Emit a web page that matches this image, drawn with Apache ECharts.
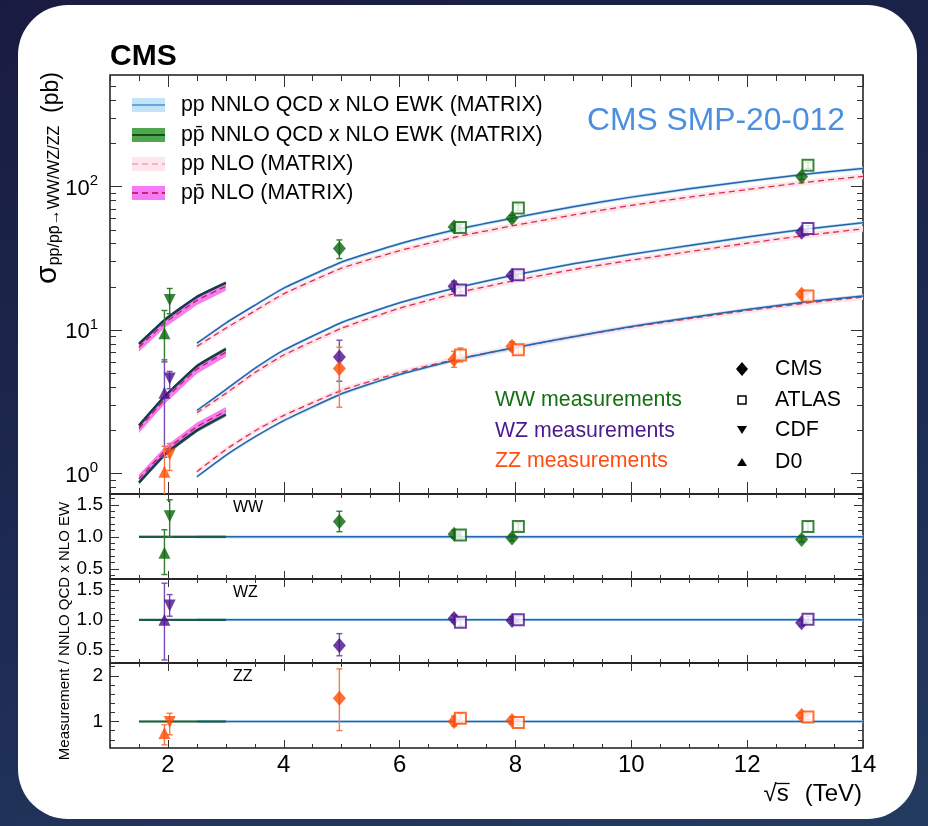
<!DOCTYPE html>
<html><head><meta charset="utf-8">
<script src="https://cdn.jsdelivr.net/npm/echarts@6/dist/echarts.min.js"></script>
<style>
html,body{margin:0;padding:0;width:928px;height:826px;overflow:hidden;
 background:linear-gradient(165deg,#191c40 0%,#1d2a52 55%,#243b60 100%);}
#card{position:absolute;left:18px;top:5px;width:899px;height:814px;background:#fff;border-radius:50px;}
#chart{position:absolute;left:0;top:0;width:928px;height:826px;}
</style></head>
<body><div id="card"></div><div id="chart"></div>
<script>
// ---------------- data ----------------
const ppSqrtS    = [2.5, 3, 3.5, 4, 5, 6, 7, 8, 9, 10, 11, 12, 13, 14];
const ppbarSqrtS = [1.5, 1.96, 2.5, 3];

const wwPP_NNLO = [8.1, 11.2, 14.9, 19.6, 29.8, 40.0, 50.4, 61.0, 72.5, 84.5, 96.5, 109.0, 122.0, 134.0];
const wwPP_NLO  = [7.7, 10.3, 13.6, 17.9, 27.0, 35.8, 44.8, 53.8, 63.5, 74.0, 84.5, 95.5, 107.0, 118.0];
const wzPP_NNLO = [2.75, 3.85, 5.4, 7.24, 11.3, 15.5, 19.8, 24.3, 29.0, 33.8, 38.8, 44.5, 50.5, 56.0];
const wzPP_NLO  = [2.65, 3.62, 5.05, 6.7, 10.3, 14.2, 18.2, 22.2, 26.4, 30.7, 35.2, 40.3, 45.6, 50.8];
const zzPP_NNLO = [0.95, 1.34, 1.8, 2.34, 3.6, 4.9, 6.24, 7.55, 9.0, 10.6, 12.2, 13.9, 15.7, 17.3];
const zzPP_NLO  = [1.03, 1.47, 1.98, 2.54, 3.8, 5.05, 6.3, 7.55, 9.0, 10.5, 12.0, 13.7, 15.4, 17.0];

const wwPPbar_NNLO = [8.0, 11.9, 17.0, 21.3];
const wwPPbar_NLO  = [7.6, 11.3, 16.1, 20.2];
const wzPPbar_NNLO = [2.16, 3.5, 5.6, 7.36];
const wzPPbar_NLO  = [2.06, 3.33, 5.33, 7.0];
const zzPPbar_NNLO = [0.865, 1.37, 2.0, 2.58];
const zzPPbar_NLO  = [0.92, 1.45, 2.12, 2.72];

// relative theory uncertainties (band half widths)
const uncPP_NNLO = 0.025, uncPP_NLO = 0.045, uncPPbar_NNLO = 0.03, uncPPbar_NLO = 0.07;

// [experiment, sqrt(s) TeV, sigma pb, sigma low, sigma high, ratio, ratio low, ratio high]
const wwMeasurements = [
  ['D0',    1.96,   9.5,   6.0,  13.7, 0.75, 0.41, 1.11],
  ['CDF',   1.96,  16.2,  13.0,  19.5, 1.32, 1.00, 1.58],
  ['CMS',   5.02,  37.0,  31.5,  42.5, 1.24, 1.08, 1.40],
  ['CMS',   7,     52.4,  50.0,  55.0, 1.04, 0.98, 1.10],
  ['ATLAS', 7,     51.9,  49.0,  55.0, 1.03, 0.97, 1.09],
  ['CMS',   8,     60.1,  57.5,  63.0, 0.98, 0.94, 1.03],
  ['ATLAS', 8,     71.1,  68.0,  74.5, 1.16, 1.10, 1.22],
  ['CMS',   13,   117.6, 112.0, 124.0, 0.96, 0.92, 1.01],
  ['ATLAS', 13,   141.0, 134.0, 148.0, 1.16, 1.09, 1.23]
];
const wzMeasurements = [
  ['D0',    1.96,  3.65, 1.3,  6.2,  1.00, 0.33, 1.61],
  ['CDF',   1.96,  4.6,  3.9,  5.15, 1.24, 1.06, 1.42],
  ['CMS',   5.02,  6.5,  4.4,  8.5,  0.57, 0.40, 0.77],
  ['CMS',   7,    20.2, 18.6, 21.9,  1.02, 0.96, 1.08],
  ['ATLAS', 7,    19.0, 17.6, 20.5,  0.96, 0.90, 1.02],
  ['CMS',   8,    24.1, 22.8, 25.5,  0.99, 0.94, 1.05],
  ['ATLAS', 8,    24.3, 23.0, 25.7,  1.00, 0.95, 1.06],
  ['CMS',   13,   48.1, 45.5, 50.8,  0.95, 0.90, 1.00],
  ['ATLAS', 13,   51.0, 48.5, 53.5,  1.01, 0.96, 1.06]
];
const zzMeasurements = [
  ['D0',    1.96,  1.03, 0.65, 1.55, 0.75, 0.49, 0.93],
  ['CDF',   1.96,  1.36, 1.05, 1.62, 0.99, 0.71, 1.18],
  ['CMS',   5.02,  5.4,  2.9,  7.6,  1.51, 0.80, 2.15],
  ['CMS',   7,     6.24, 5.5,  7.1,  1.00, 0.90, 1.12],
  ['ATLAS', 7,     6.7,  6.0,  7.5,  1.07, 0.96, 1.18],
  ['CMS',   8,     7.7,  7.2,  8.3,  1.02, 0.95, 1.10],
  ['ATLAS', 8,     7.3,  6.9,  7.8,  0.98, 0.92, 1.04],
  ['CMS',   13,   17.8, 17.0, 18.7,  1.13, 1.07, 1.19],
  ['ATLAS', 13,   17.3, 16.4, 18.2,  1.10, 1.04, 1.16]
];

// tick labels
const xTicks = [2, 4, 6, 8, 10, 12, 14];
const sigmaTicks = [1, 10, 100];
const wwRatioTicks = [0.5, 1.0, 1.5];
const wzRatioTicks = [0.5, 1.0, 1.5];
const zzRatioTicks = [1, 2];

// ---------------- layout / style ----------------
const FONT = '"Liberation Sans", Arial, Helvetica, sans-serif';
const L = 110, R = 863;
const X_MIN = 1, X_MAX = 14;
const PANELS = [
  {top: 75,  bottom: 494, log: true, min: 0.72, max: 600, ticks: sigmaTicks, minorStep: null},
  {top: 494, bottom: 579, min: 0.34, max: 1.67, ticks: wwRatioTicks, minorStep: 0.1},
  {top: 579, bottom: 663, min: 0.28, max: 1.68, ticks: wzRatioTicks, minorStep: 0.1},
  {top: 663, bottom: 748, min: 0.42, max: 2.28, ticks: zzRatioTicks, minorStep: 0.2}
];
const expShift = {CMS: -0.06, ATLAS: 0.05, CDF: 0.07, D0: -0.02};
const PROC = {
  WW: {mark: '#0b640b', err: '#2f7f2f', text: '#157015'},
  WZ: {mark: '#4b0f8c', err: '#7a4ab4', text: '#4a1a8c'},
  ZZ: {mark: '#ff4a00', err: '#f47a48', text: '#ff4d12'}
};
const C_PP = '#2763ab', C_PP_BAND = '#bfe2f6', C_NLO = '#d8304c', C_NLO_BAND = '#fde3ea';
const C_PPBAR = '#173a4e', C_PPBAR_BAND = '#4aa84a', C_PPBAR_NLO = '#c81f5c', C_PPBAR_NLO_BAND = '#f27ef2';

function range(a, b, step) { const out = []; for (let v = a; v <= b + 1e-9; v += step) out.push(+v.toFixed(6)); return out; }
const xMinor = range(X_MIN, X_MAX, 0.5).filter(v => xTicks.indexOf(v) < 0);
function yMinor(p) {
  if (p.log) {
    const out = [];
    for (let e = -1; e <= 2; e++) for (let m = 2; m <= 9; m++) { const v = m * Math.pow(10, e); if (v > p.min && v < p.max) out.push(v); }
    return out;
  }
  return range(Math.ceil(p.min / p.minorStep) * p.minorStep, p.max, p.minorStep)
    .filter(v => v > p.min && v < p.max && !p.ticks.some(t => Math.abs(t - v) < 1e-6));
}

// ---------------- grids & axes ----------------
const grids = PANELS.map(p => ({left: L, top: p.top, width: R - L, height: p.bottom - p.top,
  show: true, borderColor: '#1a1a1a', borderWidth: 1.5, backgroundColor: 'rgba(0,0,0,0)',
  containLabel: false, outerBoundsMode: 'none'}));

const xAxes = [], yAxes = [];
PANELS.forEach((p, g) => {
  const last = g === PANELS.length - 1;
  const majLen = g === 0 ? 12 : 8, minLen = g === 0 ? 6 : 4;
  const xa = (pos, ticks, len, lab) => ({type: 'value', gridIndex: g, position: pos, min: X_MIN, max: X_MAX,
    axisLine: {show: false}, splitLine: {show: false},
    axisTick: {show: true, inside: true, length: len, customValues: ticks, lineStyle: {color: '#333', width: 1}},
    axisLabel: {show: lab, customValues: xTicks, margin: 5, fontSize: 24, color: '#000', fontFamily: FONT}});
  xAxes.push(xa('bottom', xTicks, majLen, last), xa('bottom', xMinor, minLen, false),
             xa('top', xTicks, majLen, false), xa('top', xMinor, minLen, false));
  const minor = yMinor(p);
  const ya = (pos, ticks, len, lab) => {
    const ax = {type: p.log ? 'log' : 'value', gridIndex: g, position: pos, min: p.min, max: p.max,
      axisLine: {show: false}, splitLine: {show: false},
      axisTick: {show: true, inside: true, length: len, customValues: ticks, lineStyle: {color: '#333', width: 1}},
      axisLabel: {show: lab, customValues: p.ticks, color: '#000', fontFamily: FONT}};
    if (p.log) {
      ax.logBase = 10;
      ax.axisLabel.margin = 12;
      ax.axisLabel.formatter = v => '{b|10}{s|' + Math.round(Math.log10(v)) + '}';
      ax.axisLabel.rich = {b: {fontSize: 22, fontFamily: FONT, color: '#000', lineHeight: 26, verticalAlign: 'bottom'},
                           s: {fontSize: 15, fontFamily: FONT, color: '#000', lineHeight: 14, verticalAlign: 'top'}};
    } else {
      ax.axisLabel.margin = 7;
      ax.axisLabel.fontSize = 19;
      ax.axisLabel.formatter = v => (p.minorStep === 0.1 ? v.toFixed(1) : String(Math.round(v)));
    }
    return ax;
  };
  const majLenY = g === 0 ? 12 : 9, minLenY = g === 0 ? 6 : 5;
  yAxes.push(ya('left', p.ticks, majLenY, true), ya('left', minor, minLenY, false),
             ya('right', p.ticks, majLenY, false), ya('right', minor, minLenY, false));
});

// ---------------- series helpers ----------------
function bandSeries(xs, ys, frac, color, g) {
  return {type: 'custom', xAxisIndex: g * 4, yAxisIndex: g * 4, silent: true, z: 1, clip: true,
    data: [[xs[0], ys[0]]],
    renderItem: (params, api) => {
      const up = xs.map((x, i) => api.coord([x, ys[i] * (1 + frac)]));
      const dn = xs.map((x, i) => api.coord([x, ys[i] * (1 - frac)])).reverse();
      return {type: 'polygon', shape: {points: up.concat(dn)}, style: {fill: color}};
    }};
}
function lineSeries(xs, ys, g, color, width, dashed, z) {
  return {type: 'line', xAxisIndex: g * 4, yAxisIndex: g * 4, silent: true, z: z || 2,
    data: xs.map((x, i) => [x, ys[i]]), showSymbol: false, symbol: 'none', smooth: 0.15,
    lineStyle: {color: color, width: width, type: dashed ? [6, 4] : 'solid'}};
}
const xPos = r => r[1] + expShift[r[0]];
function errorSeries(rows, g, color, ratio) {
  return {type: 'custom', xAxisIndex: g * 4, yAxisIndex: g * 4, silent: true, z: 3, clip: true,
    data: rows.map(r => [xPos(r), ratio ? r[5] : r[2], ratio ? r[6] : r[3], ratio ? r[7] : r[4]]),
    renderItem: (params, api) => {
      const x = api.value(0);
      const lo = api.coord([x, api.value(2)]), hi = api.coord([x, api.value(3)]);
      const st = {stroke: color, lineWidth: 1.4};
      return {type: 'group', children: [
        {type: 'line', shape: {x1: lo[0], y1: lo[1], x2: hi[0], y2: hi[1]}, style: st},
        {type: 'line', shape: {x1: lo[0] - 3, y1: lo[1], x2: lo[0] + 3, y2: lo[1]}, style: st},
        {type: 'line', shape: {x1: hi[0] - 3, y1: hi[1], x2: hi[0] + 3, y2: hi[1]}, style: st}
      ]};
    }};
}
function symbolFor(exp, color) {
  if (exp === 'CMS') return {symbol: 'diamond', symbolSize: [13, 15], itemStyle: {color: color}};
  if (exp === 'ATLAS') return {symbol: 'rect', symbolSize: 11, itemStyle: {color: '#fff', borderColor: color, borderWidth: 2}};
  if (exp === 'CDF') return {symbol: 'triangle', symbolSize: 12, symbolRotate: 180, itemStyle: {color: color}};
  return {symbol: 'triangle', symbolSize: 12, itemStyle: {color: color}};
}
function markerSeries(rows, g, color, ratio, exps, z) {
  return {type: 'scatter', xAxisIndex: g * 4, yAxisIndex: g * 4, silent: true, z: z,
    data: rows.filter(r => exps.indexOf(r[0]) >= 0).map(r =>
      Object.assign({value: [xPos(r), ratio ? r[5] : r[2]]}, symbolFor(r[0], color)))};
}

// ---------------- series ----------------
const series = [];
const theory = [
  [wwPP_NNLO, wwPP_NLO, wwPPbar_NNLO, wwPPbar_NLO],
  [wzPP_NNLO, wzPP_NLO, wzPPbar_NNLO, wzPPbar_NLO],
  [zzPP_NNLO, zzPP_NLO, zzPPbar_NNLO, zzPPbar_NLO]
];
theory.forEach(t => {
  series.push(bandSeries(ppSqrtS, t[1], uncPP_NLO, C_NLO_BAND, 0));
  series.push(bandSeries(ppSqrtS, t[0], uncPP_NNLO, C_PP_BAND, 0));
  series.push(bandSeries(ppbarSqrtS, t[2], uncPPbar_NNLO, C_PPBAR_BAND, 0));
  series.push(bandSeries(ppbarSqrtS, t[3], uncPPbar_NLO, C_PPBAR_NLO_BAND, 0));
});
theory.forEach(t => {
  series.push(lineSeries(ppSqrtS, t[1], 0, C_NLO, 1.3, true));
  series.push(lineSeries(ppSqrtS, t[0], 0, C_PP, 1.5, false));
  series.push(lineSeries(ppbarSqrtS, t[2], 0, C_PPBAR, 2.5, false));
  series.push(lineSeries(ppbarSqrtS, t[3], 0, C_PPBAR_NLO, 1.4, true, 2.5));
});
const meas = [['WW', wwMeasurements, 1], ['WZ', wzMeasurements, 2], ['ZZ', zzMeasurements, 3]];
meas.forEach(([name, rows, g]) => {
  const c = PROC[name];
  // main panel
  series.push(errorSeries(rows, 0, c.err, false));
  series.push(markerSeries(rows, 0, c.mark, false, ['CMS', 'CDF', 'D0'], 4));
  series.push(markerSeries(rows, 0, c.mark, false, ['ATLAS'], 5));
  // ratio panel: theory reference at 1
  const ones = ppSqrtS.map(() => 1), onesBar = ppbarSqrtS.map(() => 1);
  series.push(bandSeries(ppSqrtS, ones, uncPP_NNLO, C_PP_BAND, g));
  series.push(lineSeries(ppSqrtS, ones, g, C_PP, 1.5, false));
  series.push(bandSeries(ppbarSqrtS, onesBar, uncPPbar_NNLO * 0.5, '#6fb86f', g));
  series.push(lineSeries(ppbarSqrtS, onesBar, g, '#1d5a47', 2.2, false, 2.2));
  series.push(errorSeries(rows, g, c.err, true));
  series.push(markerSeries(rows, g, c.mark, true, ['CMS', 'CDF', 'D0'], 4));
  series.push(markerSeries(rows, g, c.mark, true, ['ATLAS'], 5));
});

// ---------------- graphics (texts, legends) ----------------
function txt(x, y, text, size, extra) {
  return Object.assign({type: 'text', x: x, y: y, silent: true, z: 20,
    style: Object.assign({text: text, fontSize: size, fontFamily: FONT, fill: '#000',
      align: 'left', verticalAlign: 'middle', textAlign: 'left', textVerticalAlign: 'middle'}, (extra && extra.style) || {})},
    extra && extra.el ? extra.el : {});
}
const G = [];
G.push(txt(110, 57, 'CMS', 30, {style: {fontWeight: 'bold'}}));
G.push(txt(587, 121, 'CMS SMP-20-012', 31.8, {style: {fill: '#4a8fe0'}}));

// theory legend
const legRows = [
  {y: 105, band: '#c3e4f7', line: '#4b8fd0', w: 1.5, dash: false, label: 'pp NNLO QCD x NLO EWK (MATRIX)'},
  {y: 135, band: '#4ea64e', line: '#1b4e1b', w: 2, dash: false, label: 'pp\u0304 NNLO QCD x NLO EWK (MATRIX)'},
  {y: 164, band: '#fde6ec', line: '#f0a2b4', w: 1.3, dash: true, label: 'pp NLO (MATRIX)'},
  {y: 193, band: '#f57af5', line: '#cf2068', w: 1.8, dash: true, label: 'pp\u0304 NLO (MATRIX)'}
];
legRows.forEach(r => {
  G.push({type: 'rect', silent: true, z: 20, shape: {x: 132, y: r.y - 7, width: 33, height: 14}, style: {fill: r.band}});
  G.push({type: 'line', silent: true, z: 21, shape: {x1: 132, y1: r.y, x2: 165, y2: r.y},
    style: {stroke: r.line, lineWidth: r.w, lineDash: r.dash ? [6, 4] : null}});
  G.push(txt(181, r.y, r.label, 21.3));
});

// experiment legend
const ex = 742;
G.push({type: 'polygon', silent: true, z: 20, shape: {points: [[ex, 362], [ex + 6, 369], [ex, 376], [ex - 6, 369]]}, style: {fill: '#000'}});
G.push({type: 'rect', silent: true, z: 20, shape: {x: ex - 4, y: 396, width: 8, height: 8}, style: {fill: '#fff', stroke: '#000', lineWidth: 1.5}});
G.push({type: 'polygon', silent: true, z: 20, shape: {points: [[ex - 5, 426], [ex + 5, 426], [ex, 434]]}, style: {fill: '#000'}});
G.push({type: 'polygon', silent: true, z: 20, shape: {points: [[ex - 5, 466], [ex + 5, 466], [ex, 458]]}, style: {fill: '#000'}});
[['CMS', 369], ['ATLAS', 400], ['CDF', 430], ['D0', 462]].forEach(([t, y]) => G.push(txt(775, y, t, 21.3)));
G.push(txt(495, 400, 'WW measurements', 21.3, {style: {fill: PROC.WW.text}}));
G.push(txt(495, 431, 'WZ measurements', 21.3, {style: {fill: PROC.WZ.text}}));
G.push(txt(495, 461, 'ZZ measurements', 21.3, {style: {fill: PROC.ZZ.text}}));

// ratio panel labels
G.push(txt(233, 508, 'WW', 16));
G.push(txt(233, 593, 'WZ', 16));
G.push(txt(233, 677, 'ZZ', 16));

// y-axis titles
G.push({type: 'text', x: 46, y: 178, rotation: Math.PI / 2, silent: true, z: 20,
  style: {text: '{a|\u03c3}{b|pp/pp\u0304\u2192WW/WZ/ZZ}{c|  (pb)}', align: 'center', verticalAlign: 'middle',
    textAlign: 'center', textVerticalAlign: 'middle', fill: '#000', fontFamily: FONT,
    rich: {a: {fontSize: 30, fontFamily: FONT, fill: '#000', color: '#000', lineHeight: 34, verticalAlign: 'bottom'},
           b: {fontSize: 16, fontFamily: FONT, fill: '#000', color: '#000', lineHeight: 12, verticalAlign: 'bottom'},
           c: {fontSize: 23, fontFamily: FONT, fill: '#000', color: '#000', lineHeight: 28, verticalAlign: 'bottom'}}}});
G.push({type: 'text', x: 65, y: 631, rotation: Math.PI / 2, silent: true, z: 20,
  style: {text: 'Measurement / NNLO QCD x NLO EW', fontSize: 15, fontFamily: FONT, fill: '#000',
    align: 'center', verticalAlign: 'middle', textAlign: 'center', textVerticalAlign: 'middle'}});

// x-axis title: sqrt(s) (TeV)
const mctx = document.createElement('canvas').getContext('2d');
mctx.font = '24px ' + FONT;
const wTeV = mctx.measureText('(TeV)').width, wS = mctx.measureText('s').width, wR = mctx.measureText('\u221a').width;
const tevX = 862 - wTeV, sX = tevX - 16 - wS, rX = sX - wR;
const tY = 794;
G.push(txt(tevX, tY, '(TeV)', 24));
G.push(txt(sX, tY, 's', 24));
G.push(txt(rX, tY, '\u221a', 24));
G.push({type: 'line', silent: true, z: 20, shape: {x1: sX - 0.5, y1: tY - 10.5, x2: sX + wS + 1, y2: tY - 10.5}, style: {stroke: '#000', lineWidth: 1.3}});

// ---------------- chart ----------------
const chart = echarts.init(document.getElementById('chart'), null, {renderer: 'canvas', width: 928, height: 826});
chart.setOption({
  animation: false,
  backgroundColor: 'transparent',
  textStyle: {fontFamily: FONT},
  grid: grids,
  xAxis: xAxes,
  yAxis: yAxes,
  series: series,
  graphic: {elements: G}
});
</script>
</body></html>
